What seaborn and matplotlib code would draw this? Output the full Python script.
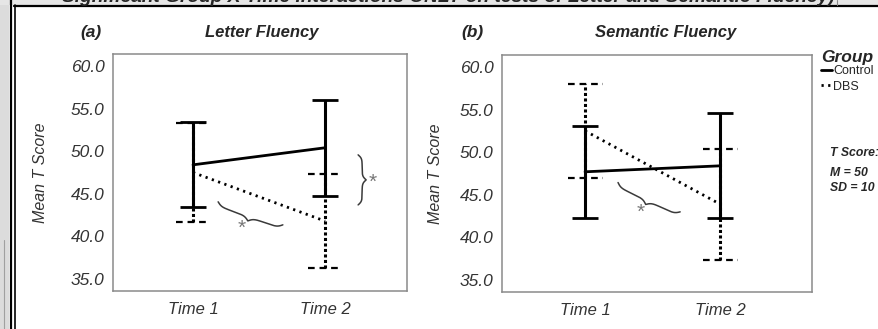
import numpy as np
import pandas as pd
import matplotlib
matplotlib.use('Agg')
import matplotlib.pyplot as plt
from matplotlib.lines import Line2D
from matplotlib.patches import Rectangle
import seaborn as sns

# data
times = ['Time 1', 'Time 2']
groups = ['Control', 'DBS']

# (a) Letter Fluency
letter_control_mean = [48.4, 50.4]
letter_control_err = [5.0, 5.6]
letter_dbs_mean = [47.5, 41.8]
letter_dbs_err = [5.8, 5.5]

# (b) Semantic Fluency
semantic_control_mean = [47.7, 48.4]
semantic_control_err = [5.4, 6.15]
semantic_dbs_mean = [52.5, 43.9]
semantic_dbs_err = [5.5, 6.5]

yticks = [35.0, 40.0, 45.0, 50.0, 55.0, 60.0]

sns.set_style('white')
plt.rcParams['font.family'] = ['Liberation Sans', 'DejaVu Sans']

W, H = 879, 329
fig = plt.figure(figsize=(W / 100, H / 100), dpi=100)
fig.patch.set_facecolor('white')


def px_axes(left, top, right, bottom):
    return fig.add_axes([left / W, 1 - bottom / H, (right - left) / W, (bottom - top) / H])


def brace(ax, p1, p2, amp, side=1):
    # curly brace drawn between two data points, amp in pixels
    a = ax.transData.transform(p1)
    b = ax.transData.transform(p2)
    d = b - a
    L = np.hypot(*d)
    u = d / L
    n = np.array([-u[1], u[0]]) * side
    t = np.linspace(0, 1, 201)
    th = t[:101]
    beta = 28
    yh = 1 / (1 + np.exp(-beta * (th - th[0]))) + 1 / (1 + np.exp(-beta * (th - th[-1])))
    s = np.concatenate([yh, yh[-2::-1]])
    s = (s - s.min()) / (s.max() - s.min())
    pts = a + np.outer(t * L, u) + np.outer(s * amp, n)
    pts = ax.transData.inverted().transform(pts)
    ax.plot(pts[:, 0], pts[:, 1], color='#3a3a3a', lw=1.1, clip_on=False)


def panel(ax, c_mean, c_err, d_mean, d_err, xlim, legend):
    xpos = list(range(len(times)))
    df = pd.DataFrame({
        'x': xpos * 2,
        'Score': c_mean + d_mean,
        'Group': [groups[0]] * len(times) + [groups[1]] * len(times),
    })
    # DBS error bars: dotted stems with dashed caps
    eb = ax.errorbar(xpos, d_mean, yerr=d_err, fmt='none', ecolor='black',
                     elinewidth=2.2, capsize=0)
    eb.lines[2][0].set_linestyle((0, (1.0, 0.8)))
    lo = np.array(d_mean) - np.array(d_err)
    hi = np.array(d_mean) + np.array(d_err)
    xs = np.array(xpos, dtype=float)
    ax.hlines(np.r_[lo, hi], np.r_[xs, xs] - 0.13, np.r_[xs, xs] + 0.13,
              colors='black', lw=1.6, linestyles=(0, (3.0, 2.2)))
    # Control error bars: solid
    ax.errorbar(xpos, c_mean, yerr=c_err, fmt='none', ecolor='black',
                elinewidth=2.2, capsize=9.5, capthick=2.0)
    sns.lineplot(data=df, x='x', y='Score', style='Group', style_order=groups,
                 dashes={'Control': '', 'DBS': (0.8, 1.6)}, color='black',
                 lw=2.0, ax=ax, legend=legend)
    ax.set_xlim(*xlim)
    ax.set_ylim(33.6, 61.4)
    ax.set_xticks(xpos, times)
    ax.set_yticks(yticks, [f'{v:.1f}' for v in yticks])
    ax.set_xlabel('')
    ax.set_ylabel('Mean T Score', fontsize=11.5, style='italic', color='#333333')
    for sp in ax.spines.values():
        sp.set_visible(True)
        sp.set_color('#8a8a8a')
        sp.set_linewidth(1.1)
    ax.tick_params(axis='both', which='both', length=3, width=0.8, color='#999999',
                   labelcolor='#333333', pad=3)
    ax.tick_params(axis='y', labelsize=12.5)
    ax.tick_params(axis='x', labelsize=12, pad=5)
    for lab in ax.get_xticklabels() + ax.get_yticklabels():
        lab.set_fontstyle('italic')


ax1 = px_axes(113, 54, 407, 291)
panel(ax1, letter_control_mean, letter_control_err, letter_dbs_mean, letter_dbs_err,
      (-0.606, 1.62), False)
ax1.yaxis.set_label_coords(-0.22, 0.5)

ax2 = px_axes(502, 55, 812, 292)
panel(ax2, semantic_control_mean, semantic_control_err, semantic_dbs_mean, semantic_dbs_err,
      (-0.615, 1.68), True)
ax2.yaxis.set_label_coords(-0.19, 0.5)

# significance braces
brace(ax1, (0.19, 44.06), (0.68, 41.36), 8, side=-1)
ax1.text(0.37, 41.0, '*', fontsize=15, color='#777777', ha='center', va='center')
brace(ax1, (1.25, 49.57), (1.25, 43.7), 8, side=1)
ax1.text(1.36, 46.4, '*', fontsize=15, color='#777777', ha='center', va='center')
brace(ax2, (0.244, 46.44), (0.704, 43.0), 8, side=-1)
ax2.text(0.41, 43.0, '*', fontsize=15, color='#777777', ha='center', va='center')

# legend
sns.move_legend(ax2, 'upper left', bbox_to_anchor=(821 / W, 1 - 50 / H),
                bbox_transform=fig.transFigure, frameon=False, title='Group',
                fontsize=9, handlelength=0.85, handletextpad=0.15, labelspacing=0.3,
                borderaxespad=0, borderpad=0)
leg = ax2.get_legend()
leg.get_title().set_fontsize(12.5)
leg.get_title().set_fontweight('bold')
leg.get_title().set_fontstyle('italic')
leg._legend_box.align = 'left'
leg._legend_box.sep = 0

# panel titles
fig.text(91 / W, 1 - 33 / H, '(a)', fontsize=12.5, fontweight='bold', style='italic', ha='center', va='center')
fig.text(262 / W, 1 - 33 / H, 'Letter Fluency', fontsize=12, fontweight='bold', style='italic', ha='center', va='center')
fig.text(472 / W, 1 - 33 / H, '(b)', fontsize=12.5, fontweight='bold', style='italic', ha='center', va='center')
fig.text(666 / W, 1 - 33 / H, 'Semantic Fluency', fontsize=12, fontweight='bold', style='italic', ha='center', va='center')

# T score note
fig.text(830 / W, 1 - 153 / H, 'T Score:', fontsize=8.8, fontweight='bold', style='italic', va='center')
fig.text(830 / W, 1 - 173 / H, 'M = 50', fontsize=8.8, fontweight='bold', style='italic', va='center')
fig.text(830 / W, 1 - 188 / H, 'SD = 10', fontsize=8.8, fontweight='bold', style='italic', va='center')

# page frame around the figure
fig.add_artist(Rectangle((0, 0), 9 / W, 1, transform=fig.transFigure, color='#dcdcdc', lw=0))
fig.add_artist(Rectangle((0, 1 - 5 / H), 1, 5 / H, transform=fig.transFigure, color='#e6e6e6', lw=0))
fig.add_artist(Line2D([4.5 / W, 4.5 / W], [0, 1 - 240 / H], transform=fig.transFigure, color='#a0a0a0', lw=0.8))
fig.add_artist(Line2D([11 / W, 11 / W], [0, 1], transform=fig.transFigure, color='black', lw=1.6))
fig.add_artist(Line2D([14.8 / W, 14.8 / W], [0, 1 - 5 / H], transform=fig.transFigure, color='black', lw=1.2))
fig.add_artist(Line2D([14 / W, 1], [1 - 5.5 / H, 1 - 5.5 / H], transform=fig.transFigure, color='black', lw=1.6))
fig.add_artist(Line2D([837 / W, 837 / W], [1 - 5 / H, 1], transform=fig.transFigure, color='#888888', lw=0.8))

# caption cut off at the top edge, stretched to its width in the picture
cap = fig.text(62 / W, 1 - 2.5 / H,
               'Significant Group X Time Interactions ONLY on tests of Letter and Semantic Fluency)',
               fontsize=12, fontweight='bold', style='italic', va='baseline', ha='left')
fig.canvas.draw()
w = cap.get_window_extent().width
cap.set_fontsize(12 * 770 / w)

fig.savefig('out.png', dpi=100)
